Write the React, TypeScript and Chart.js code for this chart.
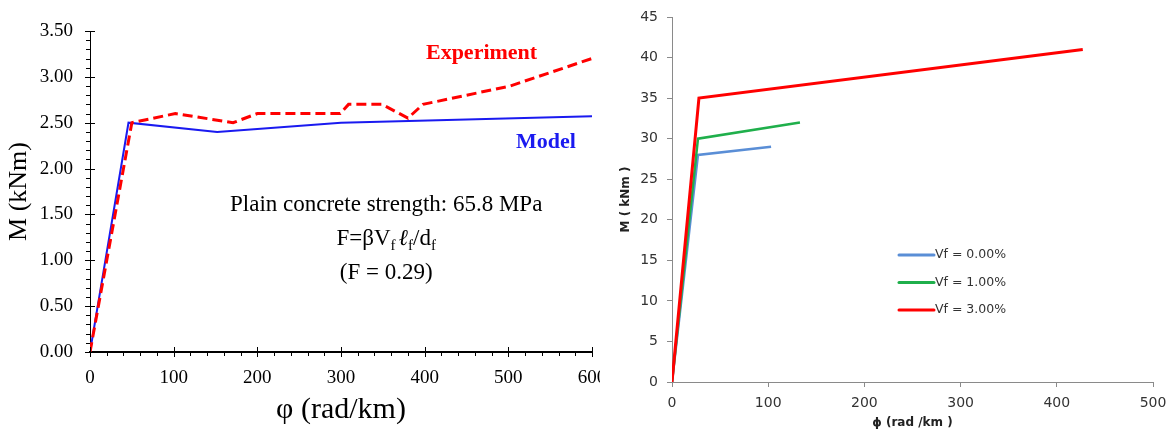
import React, { useEffect, useRef } from 'react';
import { Chart, registerables } from 'chart.js';

Chart.register(...registerables);

// ---------- Left chart data ----------
const phiModel = [0, 46, 152, 300, 600];
const mModel = [0, 2.5, 2.4, 2.5, 2.57];
const phiExp = [0, 50, 102, 171, 200, 299, 309, 349, 380, 398, 502, 600];
const mExp = [0, 2.5, 2.6, 2.5, 2.6, 2.6, 2.7, 2.7, 2.55, 2.7, 2.9, 3.2];
const leftSeriesLabels = ['Experiment', 'Model'];
const leftYRange = [0, 3.5];
const leftYStep = 0.5;
const leftXRange = [0, 600];
const leftXStep = 100;
const infoLines = ['Plain concrete strength: 65.8 MPa', '(F = 0.29)'];

// ---------- Right chart data ----------
const phiVf0 = [0, 27, 103];
const mVf0 = [0, 28, 29];
const phiVf1 = [0, 27, 133];
const mVf1 = [0, 30, 32];
const phiVf3 = [0, 28, 427];
const mVf3 = [0, 35, 41];
const vfLabels = ['Vf = 0.00%', 'Vf = 1.00%', 'Vf = 3.00%'];
const rightYRange = [0, 45];
const rightYStep = 5;
const rightXRange = [0, 500];
const rightXStep = 100;

const SERIF = "'Liberation Serif', 'Times New Roman', serif";
const SANS = "'DejaVu Sans', sans-serif";

const pts = (xs: number[], ys: number[]) => xs.map((x, i) => ({ x, y: ys[i] }));

// tick marks for left chart (major crossing the axis, minor outside)
const leftTickPlugin = {
  id: 'leftTicks',
  afterDraw(chart: any) {
    const { ctx, scales } = chart;
    const xs = scales.x;
    const ys = scales.y;
    const ax = xs.left;
    const ay = ys.bottom;
    ctx.save();
    ctx.strokeStyle = '#000';
    ctx.lineWidth = 1;
    ctx.beginPath();
    for (let i = 0; i <= 35; i++) {
      const v = i * 0.1;
      const p = Math.round(ys.getPixelForValue(v)) + 0.5;
      if (i % 5 === 0) {
        ctx.moveTo(ax - 5, p);
        ctx.lineTo(ax + 5, p);
      } else {
        ctx.moveTo(ax - 4, p);
        ctx.lineTo(ax, p);
      }
    }
    for (let i = 0; i <= 30; i++) {
      const v = i * 20;
      const p = Math.round(xs.getPixelForValue(v)) + 0.5;
      if (i % 5 === 0) {
        ctx.moveTo(p, ay - 5);
        ctx.lineTo(p, ay + 5);
      } else {
        ctx.moveTo(p, ay);
        ctx.lineTo(p, ay + 4);
      }
    }
    ctx.stroke();
    ctx.restore();
  },
};

const leftTextPlugin = {
  id: 'leftText',
  afterDraw(chart: any) {
    const { ctx, scales } = chart;
    const xs = scales.x;
    const ys = scales.y;
    ctx.save();
    ctx.textBaseline = 'middle';
    ctx.textAlign = 'center';
    // series labels
    ctx.font = `bold 22px ${SERIF}`;
    ctx.fillStyle = '#FF0000';
    ctx.fillText(leftSeriesLabels[0], xs.getPixelForValue(468), ys.getPixelForValue(3.26));
    ctx.fillStyle = '#1A1AF0';
    ctx.fillText(leftSeriesLabels[1], xs.getPixelForValue(545), ys.getPixelForValue(2.29));
    // info block
    ctx.fillStyle = '#000';
    ctx.font = `23px ${SERIF}`;
    const cx = xs.getPixelForValue(354);
    ctx.fillText(infoLines[0], cx, ys.getPixelForValue(1.6));
    ctx.fillText(infoLines[1], cx, ys.getPixelForValue(0.86));
    // formula F=βVf ℓf/df
    const parts = [
      { t: 'F=βV', s: false },
      { t: 'f', s: true },
      { t: ' ', s: false },
      { t: 'ℓ', s: false, i: true },
      { t: 'f', s: true },
      { t: '/d', s: false },
      { t: 'f', s: true },
    ];
    const mainF = `23px ${SERIF}`;
    const italF = `italic 23px ${SERIF}`;
    const subF = `15px ${SERIF}`;
    const fontOf = (p: any) => (p.s ? subF : p.i ? italF : mainF);
    let total = 0;
    const widths = parts.map((p) => {
      ctx.font = fontOf(p);
      const w = ctx.measureText(p.t).width * (p.t === ' ' ? 0.5 : 1);
      total += w;
      return w;
    });
    let x = cx - total / 2;
    const fy = ys.getPixelForValue(1.23);
    ctx.textAlign = 'left';
    parts.forEach((p, k) => {
      ctx.font = fontOf(p);
      ctx.fillText(p.t, x, p.s ? fy + 7 : fy);
      x += widths[k];
    });
    ctx.restore();
  },
};

const rightLegendPlugin = {
  id: 'rightLegend',
  afterDraw(chart: any) {
    const { ctx, chartArea } = chart;
    const x0 = chartArea.left + 227;
    const y0 = chartArea.top + 238;
    ctx.save();
    ctx.font = `12.5px ${SANS}`;
    ctx.textBaseline = 'middle';
    ctx.textAlign = 'left';
    const ds = chart.data.datasets;
    // legend order: Vf 0, 1, 3
    const order = [2, 1, 0];
    order.forEach((di, k) => {
      const d = ds[di];
      const y = y0 + k * 27.5;
      ctx.strokeStyle = d.borderColor;
      ctx.lineWidth = 3;
      ctx.lineCap = 'round';
      ctx.beginPath();
      ctx.moveTo(x0, y);
      ctx.lineTo(x0 + 35, y);
      ctx.stroke();
      ctx.fillStyle = '#333';
      ctx.fillText(d.label, x0 + 36, y);
    });
    ctx.restore();
  },
};

export default function App() {
  const leftRef = useRef<HTMLCanvasElement>(null);
  const rightRef = useRef<HTMLCanvasElement>(null);

  useEffect(() => {
    const left = new Chart(leftRef.current as HTMLCanvasElement, {
      type: 'line',
      data: {
        datasets: [
          {
            label: leftSeriesLabels[0],
            data: pts(phiExp, mExp),
            borderColor: '#FF0000',
            borderWidth: 3,
            borderDash: [10, 5],
            pointRadius: 0,
            tension: 0,
            fill: false,
          },
          {
            label: leftSeriesLabels[1],
            data: pts(phiModel, mModel),
            borderColor: '#1A1AF0',
            borderWidth: 2,
            pointRadius: 0,
            tension: 0,
            fill: false,
            order: 1,
          },
        ],
      },
      options: {
        animation: false,
        responsive: false,
        events: [],
        layout: { padding: { left: 0, right: 8, top: 31, bottom: 0 } },
        plugins: { legend: { display: false }, tooltip: { enabled: false } },
        scales: {
          x: {
            type: 'linear',
            min: leftXRange[0],
            max: leftXRange[1],
            ticks: {
              stepSize: leftXStep,
              font: { family: SERIF, size: 19 },
              color: '#000',
              padding: 15,
              maxRotation: 0,
              autoSkip: false,
            },
            grid: { display: false, drawTicks: false },
            border: { display: true, color: '#000', width: 2 },
            title: {
              display: true,
              text: 'φ (rad/km)',
              font: { family: SERIF, size: 30 },
              color: '#000',
              padding: { top: 0, bottom: 6 },
            },
            afterFit: (s: any) => {
              s.height = 82;
              s.paddingLeft = 0;
              s.paddingRight = 0;
            },
          },
          y: {
            min: leftYRange[0],
            max: leftYRange[1],
            ticks: {
              stepSize: leftYStep,
              font: { family: SERIF, size: 19 },
              color: '#000',
              padding: 17,
              callback: (v: any) => Number(v).toFixed(2),
            },
            grid: { display: false, drawTicks: false },
            border: { display: true, color: '#000', width: 1 },
            title: {
              display: true,
              text: 'M (kNm)',
              font: { family: SERIF, size: 26 },
              color: '#000',
              padding: { top: 4, bottom: 0 },
            },
            afterFit: (s: any) => {
              s.width = 90;
              s.paddingTop = 0;
              s.paddingBottom = 0;
            },
          },
        },
      },
      plugins: [leftTickPlugin, leftTextPlugin],
    } as any);

    const right = new Chart(rightRef.current as HTMLCanvasElement, {
      type: 'line',
      data: {
        datasets: [
          {
            label: vfLabels[2],
            data: pts(phiVf3, mVf3),
            borderColor: '#FF0000',
            borderWidth: 3,
            pointRadius: 0,
            tension: 0,
            order: 0,
          },
          {
            label: vfLabels[1],
            data: pts(phiVf1, mVf1),
            borderColor: '#1FAF4B',
            borderWidth: 2.5,
            pointRadius: 0,
            tension: 0,
            order: 1,
          },
          {
            label: vfLabels[0],
            data: pts(phiVf0, mVf0),
            borderColor: '#5A8ED6',
            borderWidth: 2.5,
            pointRadius: 0,
            tension: 0,
            order: 2,
          },
        ],
      },
      options: {
        animation: false,
        responsive: false,
        events: [],
        layout: { padding: { left: 0, right: 23, top: 17, bottom: 0 } },
        plugins: { legend: { display: false }, tooltip: { enabled: false } },
        scales: {
          x: {
            type: 'linear',
            min: rightXRange[0],
            max: rightXRange[1],
            ticks: {
              stepSize: rightXStep,
              font: { family: SANS, size: 14 },
              color: '#333',
              padding: 8,
              maxRotation: 0,
              autoSkip: false,
            },
            grid: { display: true, drawOnChartArea: false, drawTicks: true, tickLength: 5, color: '#8A8A8A' },
            border: { display: true, color: '#8A8A8A', width: 1 },
            title: {
              display: true,
              text: 'ϕ (rad /km )',
              font: { family: SANS, size: 12, weight: 'bold' },
              color: '#222',
              padding: { top: 0, bottom: 4 },
            },
            afterFit: (s: any) => {
              s.height = 52;
              s.paddingLeft = 0;
              s.paddingRight = 0;
            },
          },
          y: {
            min: rightYRange[0],
            max: rightYRange[1],
            ticks: {
              stepSize: rightYStep,
              font: { family: SANS, size: 14 },
              color: '#333',
              padding: 9,
            },
            grid: { display: true, drawOnChartArea: false, drawTicks: true, tickLength: 5, color: '#8A8A8A' },
            border: { display: true, color: '#8A8A8A', width: 1 },
            title: {
              display: true,
              text: 'M ( kNm )',
              font: { family: SANS, size: 12, weight: 'bold' },
              color: '#222',
              padding: { top: 19, bottom: 0 },
            },
            afterFit: (s: any) => {
              s.width = 72;
              s.paddingTop = 0;
              s.paddingBottom = 0;
            },
          },
        },
      },
      plugins: [rightLegendPlugin],
    } as any);

    return () => {
      left.destroy();
      right.destroy();
    };
  }, []);

  return (
    <div style={{ position: 'fixed', left: 0, top: 0, width: 1176, height: 434, background: '#fff', overflow: 'hidden' }}>
      <canvas ref={leftRef} width={600} height={434} style={{ position: 'absolute', left: 0, top: 0, width: 600, height: 434 }} />
      <canvas ref={rightRef} width={576} height={434} style={{ position: 'absolute', left: 600, top: 0, width: 576, height: 434 }} />
    </div>
  );
}
